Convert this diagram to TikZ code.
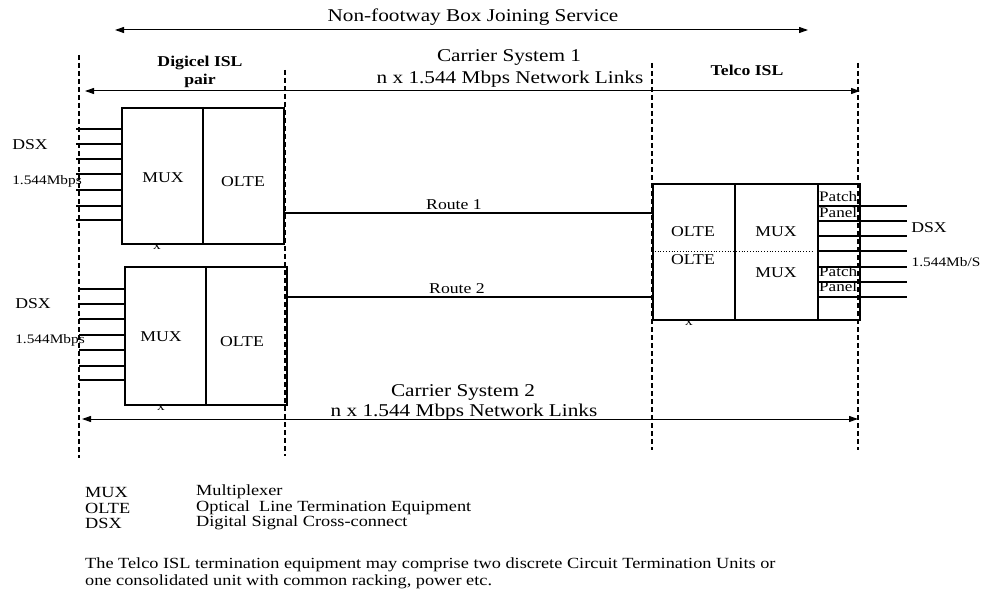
\documentclass[tikz,border=0pt]{standalone}
\usepackage{fontspec}
\setmainfont{Liberation Serif}[FakeStretch=1.18]
\usetikzlibrary{arrows.meta}
\tikzset{
  frame/.style={draw, line width=2.2pt, inner sep=0pt, anchor=north west},
  divider/.style={line width=1.2pt},
  feed/.style={line width=1.2pt},
  route/.style={line width=2pt},
  boundary/.style={line width=1.2pt, dash pattern=on 5pt off 3pt},
  span/.style={line width=1pt, {Triangle[length=9pt,width=6pt]}-{Triangle[length=9pt,width=6pt]}},
  big/.style={font=\fontsize{18}{20}\selectfont, inner sep=0pt},
  mid/.style={font=\fontsize{15}{17}\selectfont, inner sep=0pt},
  midb/.style={font=\fontsize{15}{18}\selectfont\bfseries, inner sep=0pt, align=center},
  small/.style={font=\fontsize{15.5}{17}\selectfont, inner sep=0pt},
  tiny/.style={font=\fontsize{13}{15}\selectfont, inner sep=0pt},
  panel/.style={font=\fontsize{14.5}{16}\selectfont, inner sep=0pt},
  xmark/.style={font=\fontsize{13}{14}\selectfont, inner sep=0pt},
}
\begin{document}
\begin{tikzpicture}[x=1pt,y=-1pt]
\useasboundingbox (0,0) rectangle (982,599);

% dashed boundaries
\draw[boundary] (79,55) -- (79,458);
\draw[boundary] (285,70) -- (285,456);
\draw[boundary] (652,63) -- (652,450);
\draw[boundary] (858,63) -- (858,450);

% spans
\coordinate (nfL) at (115,30); \coordinate (nfR) at (808,30);
\draw[span] (nfL) -- (nfR);
\node[big] (nftitle) at (473,17) {Non-footway Box Joining Service};

\coordinate (c1L) at (85,91); \coordinate (c1R) at (860,91);
\draw[span] (c1L) -- (c1R);
\node[big] (c1a) at (509,57) {Carrier System 1};
\node[big] (c1b) at (510,79) {n x 1.544 Mbps Network Links};

\coordinate (c2L) at (82,419); \coordinate (c2R) at (858,419);
\draw[span] (c2L) -- (c2R);
\node[big] (c2a) at (463,392) {Carrier System 2};
\node[big] (c2b) at (464,412) {n x 1.544 Mbps Network Links};

\node[midb] (digicel) at (200,72) {Digicel ISL\\pair};
\node[midb] (telco) at (747,70) {Telco ISL};

% top-left box
\node[frame, minimum width=162pt, minimum height=136pt] (box1) at (121,107) {};
\draw[divider] (203,107) -- (203,243);
\node[mid] (mux1) at (163,178) {MUX};
\node[mid] (olte1) at (243,182) {OLTE};
\foreach \y in {129,144,159,174,190,206,220} \draw[feed] (76,\y) -- (box1.west |- 0,\y);
\node[mid] (dsx1) at (30,145) {DSX};
\node[tiny] (rate1) at (47,181) {1.544Mbps};
\node[xmark] (x1) at (157,247) {x};

% bottom-left box
\node[frame, minimum width=162pt, minimum height=138pt] (box2) at (124,266) {};
\draw[divider] (206,266) -- (206,404);
\node[mid] (mux2) at (161,337) {MUX};
\node[mid] (olte2) at (242,342) {OLTE};
\foreach \y in {289,304,319,335,350,366,380} \draw[feed] (79,\y) -- (box2.west |- 0,\y);
\node[mid] (dsx2) at (33,304) {DSX};
\node[tiny] (rate2) at (50,340) {1.544Mbps};
\node[xmark] (x2) at (161,408) {x};

% right box
\node[frame, minimum width=207pt, minimum height=136pt] (boxR) at (652,183) {};
\draw[divider] (735,183) -- (735,319);
\draw[divider] (818,183) -- (818,319);
\draw[line width=0.8pt, dotted] (652,251) -- (813,251);
\node[mid] (olteR1) at (693,232) {OLTE};
\node[mid] (olteR2) at (693,260) {OLTE};
\node[mid] (muxR1) at (776,232) {MUX};
\node[mid] (muxR2) at (776,273) {MUX};
\node[panel, anchor=west] (p1) at (819,197) {Patch};
\node[panel, anchor=west] (p2) at (819,213) {Panel};
\node[panel, anchor=west] (p3) at (819,272) {Patch};
\node[panel, anchor=west] (p4) at (819,287) {Panel};
\foreach \y in {206,221,236,251,267,282,297} \draw[feed] (818,\y) -- (907,\y);
\node[mid] (dsxR) at (929,228) {DSX};
\node[tiny] (rateR) at (946,262) {1.544Mb/S};
\node[xmark] (x3) at (689,323) {x};

% routes
\draw[route] (box1.east |- 0,213) -- (boxR.west |- 0,213);
\node[mid] (r1) at (454,205) {Route 1};
\draw[route] (box2.east |- 0,297) -- (boxR.west |- 0,297);
\node[mid] (r2) at (457,289) {Route 2};

% legend
\node[small, anchor=west] (lk1) at (85,492) {MUX};
\node[small, anchor=west] (lk2) at (85,508) {OLTE};
\node[small, anchor=west] (lk3) at (85,523) {DSX};
\node[small, anchor=west] (lv1) at (196,492) {Multiplexer};
\node[small, anchor=west] (lv2) at (196,508) {Optical\ \ Line Termination Equipment};
\node[small, anchor=west] (lv3) at (196,523) {Digital Signal Cross-connect};
\node[small, anchor=west] (note1) at (85,565) {The Telco ISL termination equipment may comprise two discrete Circuit Termination Units or};
\node[small, anchor=west] (note2) at (85,582) {one consolidated unit with common racking, power etc.};
\end{tikzpicture}
\end{document}
